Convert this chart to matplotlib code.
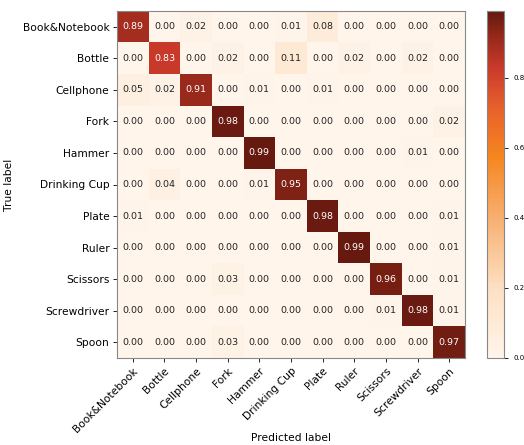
import numpy as np
import matplotlib
matplotlib.use("Agg")
import matplotlib.pyplot as plt
from matplotlib.colors import LinearSegmentedColormap

classes = ["Book&Notebook", "Bottle", "Cellphone", "Fork", "Hammer", "Drinking Cup",
           "Plate", "Ruler", "Scissors", "Screwdriver", "Spoon"]

row_book = [0.89, 0.00, 0.02, 0.00, 0.00, 0.01, 0.08, 0.00, 0.00, 0.00, 0.00]
row_bottle = [0.00, 0.83, 0.00, 0.02, 0.00, 0.11, 0.00, 0.02, 0.00, 0.02, 0.00]
row_cell = [0.05, 0.02, 0.91, 0.00, 0.01, 0.00, 0.01, 0.00, 0.00, 0.00, 0.00]
row_fork = [0.00, 0.00, 0.00, 0.98, 0.00, 0.00, 0.00, 0.00, 0.00, 0.00, 0.02]
row_hammer = [0.00, 0.00, 0.00, 0.00, 0.99, 0.00, 0.00, 0.00, 0.00, 0.01, 0.00]
row_cup = [0.00, 0.04, 0.00, 0.00, 0.01, 0.95, 0.00, 0.00, 0.00, 0.00, 0.00]
row_plate = [0.01, 0.00, 0.00, 0.00, 0.00, 0.00, 0.98, 0.00, 0.00, 0.00, 0.01]
row_ruler = [0.00, 0.00, 0.00, 0.00, 0.00, 0.00, 0.00, 0.99, 0.00, 0.00, 0.01]
row_scissors = [0.00, 0.00, 0.00, 0.03, 0.00, 0.00, 0.00, 0.00, 0.96, 0.00, 0.01]
row_screw = [0.00, 0.00, 0.00, 0.00, 0.00, 0.00, 0.00, 0.00, 0.01, 0.98, 0.01]
row_spoon = [0.00, 0.00, 0.00, 0.03, 0.00, 0.00, 0.00, 0.00, 0.00, 0.00, 0.97]

cm = np.array([row_book, row_bottle, row_cell, row_fork, row_hammer, row_cup,
               row_plate, row_ruler, row_scissors, row_screw, row_spoon])

cmap = LinearSegmentedColormap.from_list("custom", [
    (0.0, "#fff5eb"), (0.2, "#fde0c2"), (0.4, "#f8b072"), (0.58, "#f5861f"),
    (0.72, "#e8612c"), (0.84, "#c8392a"), (0.92, "#9b2a1c"), (1.0, "#65190f")])

fig = plt.figure(figsize=(5.24, 4.45), dpi=100)
ax = fig.add_axes([117/524, 1 - 358/445, 348/524, 347/445])
cax = fig.add_axes([487/524, 1 - 358/445, 17/524, 347/445])

im = ax.imshow(cm, cmap=cmap, vmin=0, vmax=cm.max(), aspect="auto")
cb = fig.colorbar(im, cax=cax)
cb.set_ticks([0.0, 0.2, 0.4, 0.6, 0.8])
cb.ax.tick_params(labelsize=5, length=3, width=0.6)
cb.outline.set_edgecolor("#888888")

n = len(classes)
ax.set_xticks(range(n))
ax.set_yticks(range(n))
ax.set_xticklabels(classes, rotation=45, ha="right", rotation_mode="anchor", fontsize=7.7)
ax.set_yticklabels(classes, fontsize=7.7)
ax.tick_params(length=3, width=0.6, pad=2.5)
for s in ax.spines.values():
    s.set_edgecolor("#888888")

thresh = cm.max() / 2
for i in range(n):
    for j in range(n):
        v = cm[i, j]
        ax.text(j, i, f"{v:.2f}", ha="center", va="center", fontsize=6.8,
                color="white" if v > thresh else "#222222")

ax.set_ylabel("True label", fontsize=7.7)
ax.set_xlabel("Predicted label", fontsize=7.7)
ax.yaxis.set_label_coords(-(117 - 14) / 348, 0.5)
ax.xaxis.set_label_coords(0.5, -(433 - 358) / 347)

fig.savefig("out.png", dpi=100)
